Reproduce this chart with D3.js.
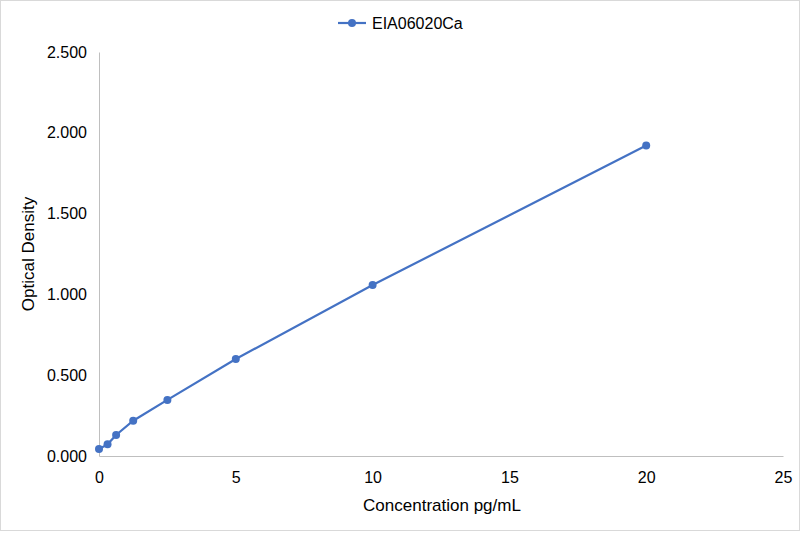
<!DOCTYPE html>
<html>
<head>
<meta charset="utf-8">
<script src="https://cdn.jsdelivr.net/npm/d3@7"></script>
<style>
  body { margin: 0; background: #fff; }
  text { font-family: "Liberation Sans", Arial, sans-serif; fill: #000; }
</style>
</head>
<body>
<div id="chart"></div>
<script>
var seriesName = "EIA06020Ca";
var concentrations = [0, 0.3125, 0.625, 1.25, 2.5, 5, 10, 20];
var densities = [0.043, 0.072, 0.130, 0.218, 0.347, 0.600, 1.058, 1.921];
var xTicks = [0, 5, 10, 15, 20, 25];
var yTicks = [0, 0.5, 1.0, 1.5, 2.0, 2.5];

var svgWidth = 801;
var svgHeight = 533;

var margin = { top: 52, right: 18, bottom: 77, left: 99 };
var width = svgWidth - margin.left - margin.right;
var height = svgHeight - margin.top - margin.bottom;

var svg = d3.select("#chart")
  .append("svg")
  .attr("width", svgWidth)
  .attr("height", svgHeight);

// chart border
svg.append("rect")
  .attr("x", 0.5).attr("y", 0.5)
  .attr("width", svgWidth - 2).attr("height", svgHeight - 3)
  .attr("fill", "#fff")
  .attr("stroke", "#d9d9d9");

var chartGroup = svg.append("g")
  .attr("transform", `translate(${margin.left}, ${margin.top})`);

var xScale = d3.scaleLinear().domain([0, 25]).range([0, width]);
var yScale = d3.scaleLinear().domain([0, 2.5]).range([height, 0]);

var xAxis = d3.axisBottom(xScale).tickValues(xTicks).tickSize(0).tickPadding(16)
  .tickFormat(d3.format("d"));
var yAxis = d3.axisLeft(yScale).tickValues(yTicks).tickSize(0).tickPadding(12)
  .tickFormat(d3.format(".3f"));

var gx = chartGroup.append("g")
  .attr("transform", `translate(0, ${height})`)
  .call(xAxis);
var gy = chartGroup.append("g").call(yAxis);

[gx, gy].forEach(function(g) {
  g.select(".domain").attr("stroke", "#bfbfbf").attr("stroke-width", 1);
  g.selectAll("text").attr("font-size", 16).attr("fill", "#000")
    .attr("font-family", "Liberation Sans, Arial, sans-serif");
});

var data = concentrations.map(function(c, i) { return { x: c, y: densities[i] }; });

var line = d3.line()
  .x(d => xScale(d.x))
  .y(d => yScale(d.y));

chartGroup.append("path")
  .datum(data)
  .attr("d", line)
  .attr("fill", "none")
  .attr("stroke", "#4472c4")
  .attr("stroke-width", 2.2);

chartGroup.selectAll(".pt")
  .data(data)
  .enter()
  .append("circle")
  .attr("class", "pt")
  .attr("cx", d => xScale(d.x))
  .attr("cy", d => yScale(d.y))
  .attr("r", 4)
  .attr("fill", "#4472c4");

// axis titles
svg.append("text")
  .attr("x", 442)
  .attr("y", 511)
  .attr("text-anchor", "middle")
  .attr("font-size", 17)
  .text("Concentration pg/mL");

svg.append("text")
  .attr("transform", `translate(34, 254) rotate(-90)`)
  .attr("text-anchor", "middle")
  .attr("font-size", 17)
  .text("Optical Density");

// legend
var legend = svg.append("g").attr("transform", "translate(338, 23)");
legend.append("line")
  .attr("x1", 0).attr("x2", 28).attr("y1", 0).attr("y2", 0)
  .attr("stroke", "#4472c4").attr("stroke-width", 2.2);
legend.append("circle").attr("cx", 14).attr("cy", 0).attr("r", 4).attr("fill", "#4472c4");
legend.append("text")
  .attr("x", 34).attr("y", 6)
  .attr("font-size", 16)
  .text(seriesName);
</script>
</body>
</html>
